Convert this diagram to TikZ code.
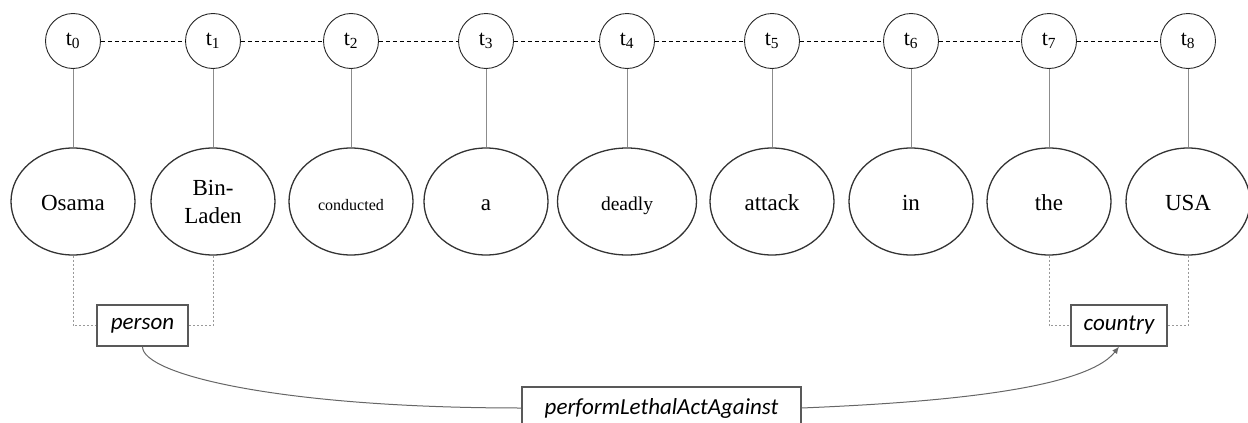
\documentclass[tikz,border=0pt]{standalone}
\usepackage{fontspec}
\setmainfont{Liberation Serif}
\newfontfamily\calfont{Carlito}
\usetikzlibrary{shapes.geometric,arrows.meta}
\tikzset{
	token/.style={circle, draw=black!85, line width=0.9pt, minimum size=55pt, inner sep=0pt, font=\fontsize{22}{24}\selectfont},
	word/.style={ellipse, draw=black!80, line width=1.3pt, minimum width=124pt, minimum height=107pt, inner sep=0pt, align=center, font=\fontsize{23}{28}\selectfont},
	oneword/.style={word, text height=22pt, text depth=5pt},
	concept/.style={rectangle, draw=black!65, line width=1.4pt, minimum height=41pt, inner sep=0pt, font=\calfont\itshape\fontsize{23}{26}\selectfont},
	chain/.style={line width=0.9pt, dash pattern=on 4pt off 3pt},
	stem/.style={black!45, line width=0.9pt},
	span/.style={black!40, line width=1pt, dash pattern=on 2pt off 2pt},
	link/.style={black!60, line width=1pt}
}

\begin{document}
\begin{tikzpicture}[x=1pt,y=1pt]
		%%%%% START %%%%%
		\useasboundingbox (0,0) rectangle (1248,-423);
		
		\node[token] (t0) at (73, -41) {t\textsubscript{0}};
		\node[token] (t1) at (213, -41) {t\textsubscript{1}};
		\node[token] (t2) at (351, -41) {t\textsubscript{2}};
		\node[token] (t3) at (486, -41) {t\textsubscript{3}};
		\node[token] (t4) at (627, -41) {t\textsubscript{4}};
		\node[token] (t5) at (772, -41) {t\textsubscript{5}};
		\node[token] (t6) at (911, -41) {t\textsubscript{6}};
		\node[token] (t7) at (1049, -41) {t\textsubscript{7}};
		\node[token] (t8) at (1188, -41) {t\textsubscript{8}};
		
		\draw[chain] (t0) -- (t1);
		\draw[chain] (t1) -- (t2);
		\draw[chain] (t2) -- (t3);
		\draw[chain] (t3) -- (t4);
		\draw[chain] (t4) -- (t5);
		\draw[chain] (t5) -- (t6);
		\draw[chain] (t6) -- (t7);
		\draw[chain] (t7) -- (t8);
		
		\node[oneword] (osama) at (73, -201.5) {Osama};
		\node[word] (binladen) at (213, -201.5) {Bin-\\Laden};
		\node[oneword, font=\fontsize{16}{18}\selectfont] (conducted) at (351, -201.5) {conducted};
		\node[oneword] (a) at (486, -201.5) {a};
		\node[oneword, minimum width=139pt, font=\fontsize{19.5}{22}\selectfont] (deadly) at (627, -201.5) {deadly};
		\node[oneword] (attack) at (772, -201.5) {attack};
		\node[oneword] (in) at (911, -201.5) {in};
		\node[oneword] (the) at (1049, -201.5) {the};
		\node[oneword] (usa) at (1188, -201.5) {USA};
		
		\draw[stem] (t0) -- (osama);
		\draw[stem] (t1) -- (binladen);
		\draw[stem] (t2) -- (conducted);
		\draw[stem] (t3) -- (a);
		\draw[stem] (t4) -- (deadly);
		\draw[stem] (t5) -- (attack);
		\draw[stem] (t6) -- (in);
		\draw[stem] (t7) -- (the);
		\draw[stem] (t8) -- (usa);
		
		\node[concept, minimum width=91pt] (person) at (142.5, -325.5) {person};
		\node[concept, minimum width=96pt] (country) at (1119, -325.5) {country};
		\node[concept, minimum width=279pt, minimum height=42pt] (pred) at (661.5, -408) {performLethalActAgainst};
		
		\draw[span] (osama.south) |- (person.west);
		\draw[span] (binladen.south) |- (person.east);
		\draw[span] (the.south) |- (country.west);
		\draw[span] (usa.south) |- (country.east);
		
		\draw[link] (person.south) .. controls +(0,-28) and +(-240,0) .. (pred.west);
		\draw[link, -{Latex[length=7pt,width=6pt]}] (pred.east) .. controls +(120,5) and +(-35,-45) .. (country.south);
		
		%%%%% END %%%%%
\end{tikzpicture}
\end{document}
